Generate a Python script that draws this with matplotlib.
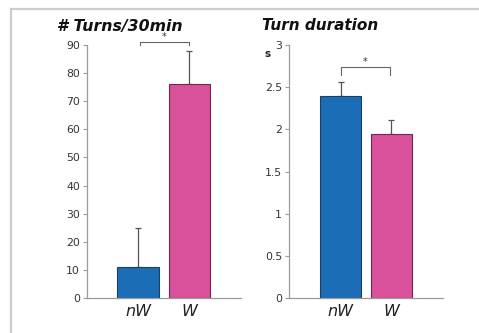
import matplotlib
matplotlib.use("Agg")
import matplotlib.pyplot as plt
from matplotlib.lines import Line2D

categories = ["nW", "W"]
turns_mean = [11, 76]
turns_err = [14, 12]
dur_mean = [2.40, 1.95]
dur_err = [0.16, 0.16]
turns_ticks = [0, 10, 20, 30, 40, 50, 60, 70, 80, 90]
dur_ticks = [0, 0.5, 1, 1.5, 2, 2.5, 3]
dur_ticklabels = ["0", "0.5", "1", "1.5", "2", "2.5", "3"]

colors = ["#1b6db5", "#d9519a"]
edges = ["#1d3f66", "#6e2a4c"]
axis_col = "#9a9a9a"
text_col = "#333333"

fig = plt.figure(figsize=(4.79, 3.33), dpi=100)
fig.patch.set_facecolor("white")

# frame lines (top and left)
fig.add_artist(Line2D([11/479, 1], [1-9/333, 1-9/333], color="#cccccc", lw=1.6, transform=fig.transFigure))
fig.add_artist(Line2D([11/479, 11/479], [0, 1-9/333], color="#cccccc", lw=1.6, transform=fig.transFigure))

def setup(ax, ticks, labels, ylim, xlim):
    ax.set_ylim(*ylim)
    ax.set_xlim(*xlim)
    for s in ["top", "right"]:
        ax.spines[s].set_visible(False)
    for s in ["left", "bottom"]:
        ax.spines[s].set_color(axis_col)
        ax.spines[s].set_linewidth(0.9)
    ax.set_yticks(ticks)
    ax.set_yticklabels(labels, fontsize=7.8, color=text_col, family="DejaVu Sans")
    ax.tick_params(axis="y", length=3, width=0.8, color=axis_col, pad=2)
    ax.set_xticks([0, 1])
    ax.set_xticklabels(categories, fontsize=11.5, style="italic", color="#222222", family="DejaVu Sans")
    ax.tick_params(axis="x", length=0, pad=4)

# Left panel
ax1 = fig.add_axes([87/479, 1-298/333, 154/479, 253/333])
ax1.bar([0, 1], turns_mean, width=0.81, color=colors, edgecolor=edges, linewidth=0.8, zorder=2)
ax1.errorbar([0, 1], turns_mean, yerr=[[0, 0], turns_err], fmt="none", ecolor="#555555",
             elinewidth=0.9, capsize=2.5, capthick=0.9, zorder=1)
setup(ax1, turns_ticks, [str(t) for t in turns_ticks], (0, 90), (-0.99, 2.0))
ax1.plot([0.04, 0.04, 0.99, 0.99], [90, 91.2, 91.2, 90], color="#666666", lw=0.8, clip_on=False)
ax1.text(0.515, 91.0, "*", ha="center", va="bottom", fontsize=7, color="#333333")
fig.text(57/479, 1-26/333, "# Turns/30min", fontsize=11.3, weight="bold", style="italic",
         color="#111111", va="center", ha="left", family="DejaVu Sans")

# Right panel
ax2 = fig.add_axes([289/479, 1-298/333, 154/479, 253/333])
ax2.bar([0, 1], dur_mean, width=0.80, color=colors, edgecolor=edges, linewidth=0.8, zorder=2)
ax2.errorbar([0, 1], dur_mean, yerr=[[0, 0], dur_err], fmt="none", ecolor="#555555",
             elinewidth=0.9, capsize=2.5, capthick=0.9, zorder=1)
setup(ax2, dur_ticks, dur_ticklabels, (0, 3), (-1.01, 2.01))
ax2.plot([0.01, 0.01, 0.97, 0.97], [2.64, 2.74, 2.74, 2.64], color="#666666", lw=0.8, clip_on=False)
ax2.text(0.49, 2.74, "*", ha="center", va="bottom", fontsize=7, color="#333333")
fig.text(262/479, 1-26/333, "Turn duration", fontsize=11, weight="bold", style="italic",
         color="#111111", va="center", ha="left", family="DejaVu Sans")
fig.text(268/479, 1-54/333, "s", fontsize=7.5, weight="bold", color="#222222",
         va="center", ha="center", family="DejaVu Sans")

fig.savefig("out.png", dpi=100, facecolor="white")
